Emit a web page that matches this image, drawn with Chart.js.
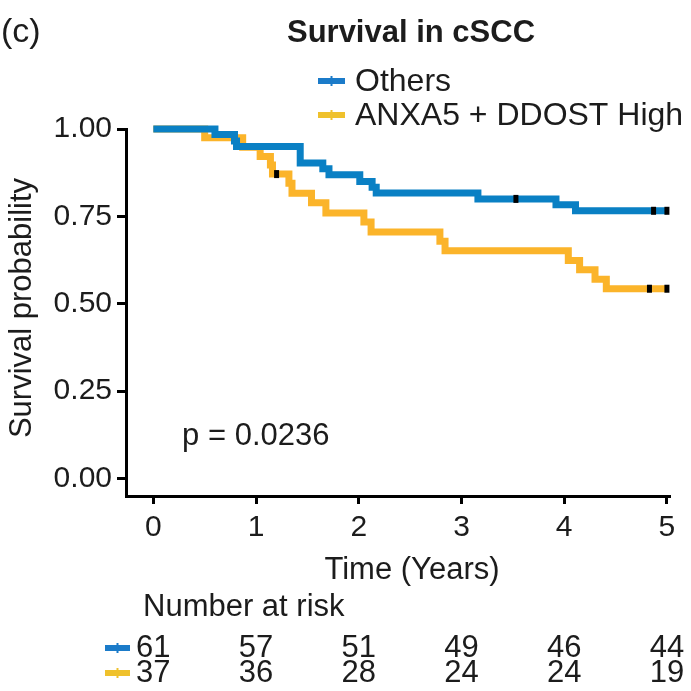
<!DOCTYPE html>
<html>
<head>
<meta charset="utf-8">
<script src="https://cdn.jsdelivr.net/npm/chart.js@4.4.1/dist/chart.umd.min.js"></script>
<style>
  html, body { margin: 0; padding: 0; background: #ffffff; }
  canvas { display: block; }
</style>
</head>
<body>
<canvas id="km" width="691" height="691"></canvas>
<script>
// Kaplan-Meier survival in cSCC, two risk groups
const groupNames = ['Others', 'ANXA5 + DDOST High'];

// Step points: time (years) of each drop and survival after it
const othersTime = [0, 0.60, 0.79, 0.81, 1.43, 1.65, 1.71, 2.01, 2.13, 2.17, 3.16, 3.92, 4.11, 5.00];
const othersSurv = [1.000, 0.984, 0.966, 0.950, 0.903, 0.886, 0.869, 0.850, 0.833, 0.817, 0.800, 0.783, 0.766, 0.766];
const highTime = [0, 0.50, 0.87, 1.04, 1.14, 1.16, 1.32, 1.35, 1.54, 1.68, 2.05, 2.12, 2.79, 2.84, 4.04, 4.15, 4.30, 4.41, 5.00];
const highSurv = [1.000, 0.975, 0.948, 0.921, 0.897, 0.871, 0.845, 0.816, 0.789, 0.760, 0.734, 0.705, 0.679, 0.652, 0.624, 0.597, 0.570, 0.543, 0.543];

// Censored observations
const othersCensorTime = [3.53, 4.87, 5.00];
const othersCensorSurv = [0.800, 0.766, 0.766];
const highCensorTime = [1.20, 4.83, 5.00];
const highCensorSurv = [0.871, 0.543, 0.543];

// Axis ticks
const timeTicks = [0, 1, 2, 3, 4, 5];
const survTicks = [0, 0.25, 0.5, 0.75, 1];

// Number at risk at each time tick
const othersAtRisk = [61, 57, 51, 49, 46, 44];
const highAtRisk = [37, 36, 28, 24, 24, 19];

const pValueLabel = 'p = 0.0236';

const BLUE = '#0a80c4';
const ORANGE = '#fbb42a';
const BLUE_KEY = '#1b7bc9';
const YELLOW_KEY = '#efc12c';
const INK = '#1c1c1c';
const FONT = '"Liberation Sans", Arial, Helvetica, sans-serif';

const toPoints = (xs, ys) => xs.map((x, i) => ({ x: x, y: ys[i] }));

// Draws a key swatch: short thick line with a small tick in the middle
function drawKey(ctx, x0, x1, y, color) {
  ctx.save();
  ctx.strokeStyle = color;
  ctx.lineWidth = 6;
  ctx.lineCap = 'butt';
  ctx.beginPath();
  ctx.moveTo(x0, y);
  ctx.lineTo(x1, y);
  ctx.stroke();
  ctx.lineWidth = 2;
  ctx.beginPath();
  const xm = (x0 + x1) / 2;
  ctx.moveTo(xm, y - 5);
  ctx.lineTo(xm, y + 5);
  ctx.stroke();
  ctx.restore();
}

const annotations = {
  id: 'kmAnnotations',
  afterDraw(chart) {
    const ctx = chart.ctx;
    const xs = chart.scales.x;
    const ys = chart.scales.y;
    ctx.save();
    ctx.fillStyle = INK;
    ctx.textBaseline = 'middle';

    // Panel tag
    ctx.font = '34px ' + FONT;
    ctx.textAlign = 'left';
    ctx.fillText('(c)', 1, 33);

    // Title
    ctx.font = 'bold 31px ' + FONT;
    ctx.textAlign = 'center';
    ctx.fillText('Survival in cSCC', 411, 33);

    // Legend
    const keyColors = [BLUE_KEY, YELLOW_KEY];
    ctx.font = '32px ' + FONT;
    ctx.textAlign = 'left';
    groupNames.forEach((name, i) => {
      const y = 81 + i * 34;
      drawKey(ctx, 318, 345, y, keyColors[i]);
      ctx.fillStyle = INK;
      ctx.fillText(name, 355, y + 1);
    });

    // Axis titles
    ctx.font = '31px ' + FONT;
    ctx.textAlign = 'center';
    ctx.fillText('Time (Years)', 412, 570);
    ctx.save();
    ctx.translate(22, 308);
    ctx.rotate(-Math.PI / 2);
    ctx.fillText('Survival probability', 0, 0);
    ctx.restore();

    // Log-rank p-value
    ctx.textAlign = 'left';
    ctx.fillText(pValueLabel, xs.getPixelForValue(0.28), ys.getPixelForValue(0.12));

    // Risk table
    ctx.fillText('Number at risk', 143, 607);
    const rows = [othersAtRisk, highAtRisk];
    rows.forEach((row, r) => {
      const y = 648 + r * 25;
      drawKey(ctx, 105, 130, y, keyColors[r]);
      ctx.fillStyle = INK;
      ctx.textAlign = 'center';
      row.forEach((n, i) => {
        ctx.fillText(String(n), xs.getPixelForValue(timeTicks[i]), y);
      });
    });
    ctx.restore();
  }
};

const censorStyle = {
  type: 'scatter',
  showLine: false,
  pointStyle: 'line',
  rotation: 90,
  radius: 4,
  hoverRadius: 4,
  borderWidth: 5,
  borderColor: '#000000',
  backgroundColor: '#000000',
  clip: false,
  order: 0
};

new Chart(document.getElementById('km'), {
  type: 'line',
  data: {
    datasets: [
      Object.assign({ label: groupNames[0] + ' censored', data: toPoints(othersCensorTime, othersCensorSurv) }, censorStyle),
      Object.assign({ label: groupNames[1] + ' censored', data: toPoints(highCensorTime, highCensorSurv) }, censorStyle),
      {
        label: groupNames[0],
        data: toPoints(othersTime, othersSurv),
        stepped: 'before',
        borderColor: BLUE,
        borderWidth: 7,
        pointRadius: 0,
        fill: false,
        clip: false,
        order: 1
      },
      {
        label: groupNames[1],
        data: toPoints(highTime, highSurv),
        stepped: 'before',
        borderColor: ORANGE,
        borderWidth: 7,
        pointRadius: 0,
        fill: false,
        clip: false,
        order: 2
      }
    ]
  },
  options: {
    responsive: false,
    devicePixelRatio: 1,
    animation: false,
    events: [],
    layout: { padding: { top: 129, right: 21, bottom: 0, left: 0 } },
    plugins: {
      legend: { display: false },
      tooltip: { enabled: false },
      title: { display: false }
    },
    scales: {
      x: {
        type: 'linear',
        min: -0.266,
        max: 5.03,
        afterBuildTicks: (s) => { s.ticks = timeTicks.map(v => ({ value: v })); },
        afterFit: (s) => { s.height = 195; },
        ticks: {
          font: { family: FONT, size: 30 },
          color: INK,
          padding: 6,
          maxRotation: 0,
          autoSkip: false,
          callback: (v) => String(v)
        },
        grid: {
          drawOnChartArea: false,
          drawTicks: true,
          tickLength: 8,
          tickWidth: 3,
          tickColor: '#000000',
          color: '#000000'
        },
        border: { display: true, color: '#000000', width: 3 }
      },
      y: {
        type: 'linear',
        min: -0.05,
        max: 1.0,
        afterBuildTicks: (s) => { s.ticks = survTicks.map(v => ({ value: v })); },
        afterFit: (s) => { s.width = 126; },
        ticks: {
          font: { family: FONT, size: 30 },
          color: INK,
          padding: 5,
          autoSkip: false,
          callback: (v) => Number(v).toFixed(2)
        },
        grid: {
          drawOnChartArea: false,
          drawTicks: true,
          tickLength: 9,
          tickWidth: 3,
          tickColor: '#000000',
          color: '#000000'
        },
        border: { display: true, color: '#000000', width: 3 }
      }
    }
  },
  plugins: [annotations]
});
</script>
</body>
</html>
